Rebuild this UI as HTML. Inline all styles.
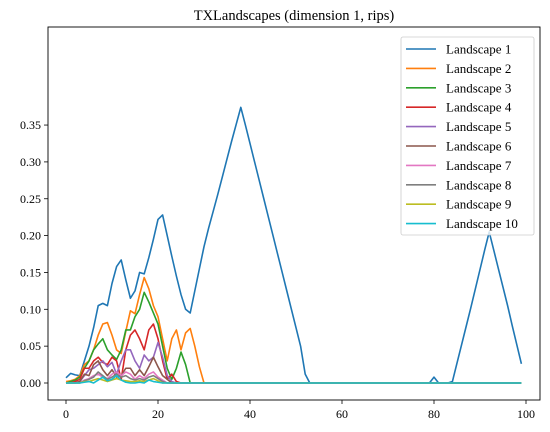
<!DOCTYPE html>
<html><head><meta charset="utf-8">
<style>
body{margin:0;background:#fff;}
svg{display:block;font-family:"Liberation Serif",serif;}
</style></head>
<body>
<svg id="chart" width="550" height="432"></svg>
<script>
const xStart = 0;
const l1 = [0.007,0.013,0.011,0.010,0.030,0.050,0.075,0.105,0.108,0.105,0.135,0.158,0.167,0.140,0.115,0.125,0.150,0.148,0.170,0.195,0.222,0.228,0.200,0.172,0.145,0.120,0.100,0.095,0.125,0.155,0.185,0.210,0.233,0.256,0.280,0.304,0.328,0.351,0.374,0.350,0.325,0.300,0.275,0.250,0.225,0.200,0.175,0.150,0.125,0.100,0.075,0.050,0.012,0,0,0,0,0,0,0,0,0,0,0,0,0,0,0,0,0,0,0,0,0,0,0,0,0,0,0,0.008,0,0,0,0.002,0.027,0.052,0.077,0.102,0.128,0.154,0.180,0.205,0.180,0.155,0.130,0.105,0.078,0.052,0.026];
const l2 = [0.002,0.003,0.005,0.010,0.025,0.030,0.045,0.065,0.080,0.082,0.065,0.045,0.040,0.070,0.098,0.094,0.120,0.143,0.128,0.105,0.090,0.060,0.030,0.060,0.072,0.045,0.068,0.074,0.050,0.022,0];
const l3 = [0,0.002,0.004,0.008,0.020,0.030,0.045,0.053,0.060,0.045,0.038,0.032,0.045,0.072,0.072,0.090,0.100,0.123,0.110,0.095,0.080,0.050,0.020,0.005,0.020,0.042,0.025,0];
const l4 = [0,0,0.002,0.005,0.020,0.020,0.030,0.035,0.028,0.025,0.035,0.030,0.005,0.045,0.065,0.072,0.060,0.045,0.072,0.080,0.060,0.030,0.005,0.012,0.002,0];
const l5 = [0,0,0,0.002,0.010,0.018,0.020,0.025,0.030,0.022,0.028,0.012,0.030,0.045,0.045,0.030,0.020,0.038,0.030,0.035,0.055,0.035,0.010,0.002,0];
const l6 = [0,0,0,0.002,0.012,0.010,0.025,0.030,0.018,0.010,0.018,0.008,0.010,0.020,0.020,0.010,0.018,0.010,0.022,0.035,0.022,0.010,0.005,0];
const l7 = [0,0,0,0,0.004,0.006,0.010,0.012,0.008,0.006,0.012,0.015,0.010,0.015,0.012,0.005,0.010,0.006,0.012,0.015,0.008,0.004,0];
const l8 = [0,0,0,0,0.003,0.005,0.008,0.015,0.010,0.005,0.008,0.012,0.008,0.010,0.006,0.004,0.006,0.004,0.008,0.010,0.006,0.002,0];
const l9 = [0,0,0,0,0.002,0.002,0.004,0.006,0.004,0.002,0.004,0.006,0.004,0.003,0.002,0.002,0.003,0.002,0.004,0.006,0.003,0];
const l10 = [0,0,0,0,0.001,0.002,0.000,0.004,0.008,0.003,0.005,0.010,0.004,0.001,0.000,0.000,0.001,0.000,0.004,0.002,0.001,0];
const seriesNames = ["Landscape 1","Landscape 2","Landscape 3","Landscape 4","Landscape 5","Landscape 6","Landscape 7","Landscape 8","Landscape 9","Landscape 10"];
const colors = ["#1f77b4","#ff7f0e","#2ca02c","#d62728","#9467bd","#8c564b","#e377c2","#7f7f7f","#bcbd22","#17becf"];
const xTicks = [0,20,40,60,80,100];
const yTicks = [0,0.05,0.10,0.15,0.20,0.25,0.30,0.35];
const yTickLabels = ["0.00","0.05","0.10","0.15","0.20","0.25","0.30","0.35"];
const nPoints = 100;

const NS="http://www.w3.org/2000/svg";
const svg=document.getElementById('chart');
const L=48,R=540,T=27,B=400;
const xs=v=>66+v*4.6;
const ys=v=>383-v*737;
function mk(tag,attrs,parent){const e=document.createElementNS(NS,tag);for(const k in attrs)e.setAttribute(k,attrs[k]);(parent||svg).appendChild(e);return e;}

const title=mk('text',{x:294,y:20,'text-anchor':'middle','font-size':14.5,fill:'#000'});


title.textContent="TXLandscapes (dimension 1, rips)";

const all=[l1,l2,l3,l4,l5,l6,l7,l8,l9,l10];
all.forEach((arr,i)=>{
  const pts=[];
  for(let k=0;k<nPoints;k++){const v=k<arr.length?arr[k]:0;pts.push(xs(xStart+k).toFixed(2)+','+ys(v).toFixed(2));}
  const p=mk('polyline',{points:pts.join(' '),fill:'none',stroke:colors[i],'stroke-width':1.6,'stroke-linejoin':'round'});
  
  
});

const frame=mk('rect',{x:L,y:T,width:R-L,height:B-T,fill:'none',stroke:'#000','stroke-width':0.9});



xTicks.forEach(t=>{
  const x=xs(t);
  const l=mk('line',{x1:x,x2:x,y1:B,y2:B+4,stroke:'#000','stroke-width':0.8});
  
  
  const tx=mk('text',{x:x,y:B+18,'text-anchor':'middle','font-size':12,fill:'#000'});
  
  
  tx.textContent=t;
});
yTicks.forEach((t,i)=>{
  const y=ys(t);
  const l=mk('line',{x1:L-4,x2:L,y1:y,y2:y,stroke:'#000','stroke-width':0.8});
  
  
  const tx=mk('text',{x:L-7,y:y+4,'text-anchor':'end','font-size':12,fill:'#000'});
  
  
  tx.textContent=yTickLabels[i];
});

const lg=mk('g',{});


mk('rect',{x:401,y:37,width:133,height:198,rx:2,fill:'#fff','fill-opacity':0.8,stroke:'#ccc','stroke-width':0.8},lg);
seriesNames.forEach((n,i)=>{
  const y=49+i*19.4;
  const g=mk('g',{},lg);
  
  
  mk('line',{x1:406,x2:436,y1:y,y2:y,stroke:colors[i],'stroke-width':1.6},g);
  const t=mk('text',{x:446,y:y+4.5,'font-size':13,fill:'#000'},g);
  t.textContent=n;
});
</script>
</body></html>
